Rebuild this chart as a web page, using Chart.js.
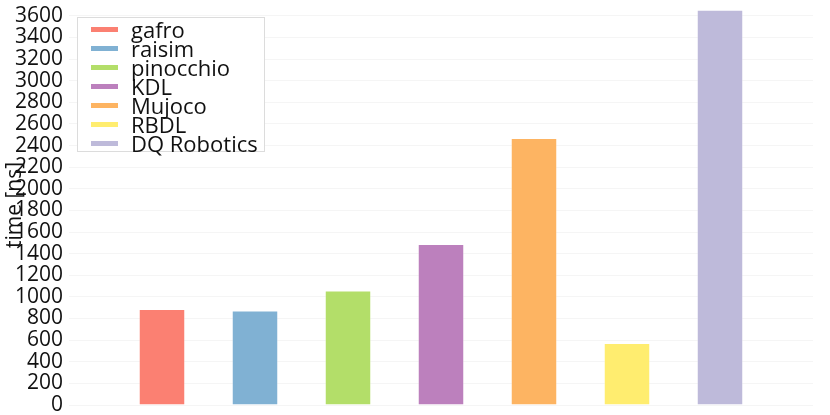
<!DOCTYPE html>
<html>
<head>
<meta charset="utf-8">
<script src="https://cdn.jsdelivr.net/npm/chart.js@4/dist/chart.umd.min.js"></script>
<style>
  html, body { margin: 0; padding: 0; background: #fff; }
  #wrap { position: relative; width: 830px; height: 415px; }
  #legend {
    position: absolute; left: 77px; top: 17px; width: 186px; height: 133px;
    border: 1px solid #dcdcdc; background: #fff; box-sizing: content-box;
    font-family: "Open Sans", sans-serif; font-size: 22px; color: #111;
  }
  #legend .item { position: absolute; left: 0; height: 19px; line-height: 19px; white-space: nowrap; }
  #legend .sw { position: absolute; left: 13px; top: 7px; width: 27px; height: 5px; }
  #legend .tx { position: absolute; left: 53px; top: 0; }
</style>
</head>
<body>
<div id="wrap">
  <canvas id="c" width="830" height="415"></canvas>
  <div id="legend"></div>
</div>
<script>
const categories = ['gafro', 'raisim', 'pinocchio', 'KDL', 'Mujoco', 'RBDL', 'DQ Robotics'];
const values = [887, 873, 1060, 1490, 2470, 573, 3656];
const colors = ['#FB8072', '#80B1D3', '#B3DE69', '#BC80BD', '#FDB462', '#FFED6F', '#BEBADA'];
const yTickMax = 3600;
const yTickStep = 200;
const yAxisTitle = 'time [ns]';

const slots = [''].concat(categories).concat(['']);
const datasets = categories.map((name, i) => {
  const d = slots.map(() => null);
  d[i + 1] = values[i];
  return {
    label: name,
    data: d,
    backgroundColor: colors[i],
    borderColor: 'rgba(255,255,255,0.35)',
    borderWidth: 1,
    barPercentage: 0.5,
    categoryPercentage: 1.0,
    skipNull: true
  };
});

const chart = new Chart(document.getElementById('c'), {
  type: 'bar',
  data: { labels: slots, datasets },
  options: {
    responsive: false,
    animation: false,
    layout: { padding: { left: 0, right: 17, top: 5, bottom: 10 } },
    plugins: { legend: { display: false }, tooltip: { enabled: false } },
    scales: {
      x: {
        display: false,
        offset: false,
        grid: { display: false }
      },
      y: {
        min: 0,
        max: 3700,
        afterBuildTicks: (s) => {
          const t = [];
          for (let v = 0; v <= yTickMax; v += yTickStep) t.push({ value: v });
          s.ticks = t;
        },
        afterFit: (s) => { s.width = 69; s.paddingTop = 0; s.paddingBottom = 0; },
        border: { display: false },
        grid: { color: '#f5f5f5', lineWidth: 1, drawTicks: false },
        ticks: {
          padding: 6,
          color: '#111',
          font: { family: 'Open Sans', size: 21 },
          autoSkip: false,
          callback: (v) => String(v)
        },
        title: {
          display: true,
          text: yAxisTitle,
          color: '#111',
          padding: { top: 2, bottom: 0 },
          font: { family: 'Open Sans', size: 21 }
        }
      }
    }
  }
});

const leg = document.getElementById('legend');
chart.data.datasets.forEach((ds, i) => {
  const it = document.createElement('div');
  it.className = 'item';
  it.style.top = (2 + i * 19) + 'px';
  const sw = document.createElement('span');
  sw.className = 'sw';
  sw.style.background = ds.backgroundColor;
  const tx = document.createElement('span');
  tx.className = 'tx';
  tx.textContent = ds.label;
  it.appendChild(sw); it.appendChild(tx);
  leg.appendChild(it);
});
</script>
</body>
</html>
